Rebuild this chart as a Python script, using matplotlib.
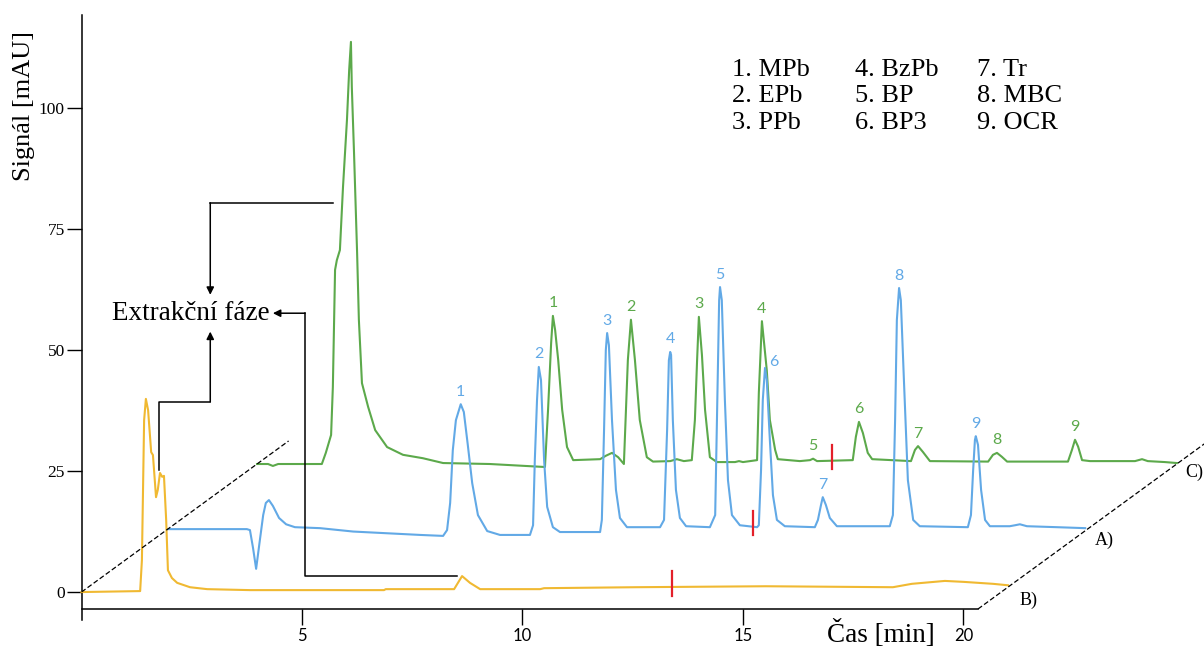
import numpy as np
import matplotlib
matplotlib.use("Agg")
import matplotlib.pyplot as plt

# ── data: time [min], signal [mAU] ─────────────────────────────────────
# B) extrakční fáze (yellow), drawn on the front plane
b_time = [0.00, 1.33, 1.37, 1.42, 1.46, 1.51, 1.58, 1.62, 1.69, 1.73, 1.78, 1.83,
          1.87, 1.92, 1.96, 2.05, 2.17, 2.46, 2.85, 3.82, 6.86, 6.90, 8.45, 8.63,
          8.81, 9.04, 10.40, 10.49, 12.57, 15.52, 18.40, 18.83, 19.58, 20.01, 20.67, 21.01]
b_signal = [0.0, 0.2, 6.6, 35.5, 39.9, 37.6, 28.9, 28.3, 19.6, 21.1, 24.6, 23.8,
            24.0, 14.9, 4.5, 2.9, 1.9, 1.0, 0.6, 0.4, 0.4, 0.6, 0.6, 3.3,
            1.9, 0.6, 0.6, 0.8, 1.0, 1.2, 1.0, 1.7, 2.3, 2.1, 1.7, 1.4]

# A) standard mix (blue)
a_time = [0.00, 1.81, 1.88, 1.95, 2.02, 2.09, 2.18, 2.24, 2.31, 2.40, 2.54, 2.70, 2.90, 3.47, 4.22, 5.74,
          6.26, 6.35, 6.42, 6.48, 6.55, 6.66, 6.73, 6.82, 6.92, 7.05, 7.26, 7.55,
          8.23, 8.30, 8.34, 8.39, 8.43, 8.48, 8.55, 8.62, 8.75, 8.91,
          9.82, 9.86, 9.91, 9.95, 9.98, 10.02, 10.09, 10.18, 10.27, 10.43,
          11.18, 11.27, 11.34, 11.38, 11.41, 11.43, 11.47, 11.54, 11.63, 11.77,
          12.31, 12.43, 12.47, 12.52, 12.54, 12.58, 12.65, 12.72, 12.81, 12.99,
          13.38, 13.42, 13.47, 13.51, 13.56, 13.60, 13.67, 13.74, 13.83, 14.01,
          14.69, 14.76, 14.83, 14.87, 14.94, 15.03, 15.19,
          16.39, 16.46, 16.51, 16.55, 16.60, 16.64, 16.71, 16.80, 16.92, 17.07,
          18.16, 18.23, 18.28, 18.32, 18.34, 18.39, 18.46, 18.55, 18.66,
          19.11, 19.23, 19.34, 19.50, 20.18, 20.82]
a_signal = [0.0, 0.0, -0.2, -3.9, -8.2, -3.3, 2.9, 5.4, 6.0, 4.8, 2.3, 1.0, 0.4, 0.2, -0.5, -1.2,
            -1.4, -0.2, 5.4, 16.3, 22.5, 25.8, 24.2, 17.4, 9.5, 2.9, -0.4, -1.2,
            -1.2, 0.8, 14.3, 26.7, 33.5, 30.8, 14.3, 4.6, 0.4, -0.6,
            -0.6, 1.9, 20.5, 37.0, 40.5, 38.0, 22.5, 8.1, 2.3, 0.4,
            0.4, 1.9, 20.5, 34.9, 36.6, 36.0, 22.5, 8.1, 2.3, 0.6,
            0.4, 2.9, 22.5, 47.3, 50.0, 47.3, 26.7, 10.1, 2.9, 0.8,
            0.4, 0.8, 12.2, 26.7, 33.3, 30.8, 18.4, 7.0, 1.9, 0.6,
            0.4, 1.9, 5.0, 6.6, 5.0, 2.3, 0.6,
            0.6, 2.9, 22.5, 43.2, 49.8, 47.3, 30.8, 10.1, 1.9, 0.6,
            0.4, 2.9, 12.2, 18.4, 19.2, 17.4, 8.1, 1.9, 0.6,
            0.6, 0.8, 1.0, 0.6, 0.4, 0.2]

# C) sample after extraction (green)
c_time = [0.00, 0.25, 0.36, 0.48, 1.47, 1.56, 1.68, 1.72, 1.77, 1.81, 1.88, 1.95, 2.04, 2.09,
          2.13, 2.15, 2.20, 2.27, 2.31, 2.38, 2.52, 2.68, 2.95, 3.31, 3.76, 4.22, 5.28, 6.49,
          6.53, 6.60, 6.67, 6.71, 6.76, 6.83, 6.92, 7.03, 7.17,
          7.78, 7.91, 8.05, 8.19, 8.32, 8.41, 8.48, 8.57, 8.68, 8.84, 8.98,
          9.37, 9.52, 9.68, 9.86, 9.93, 9.98, 10.02, 10.09, 10.16, 10.27, 10.43,
          10.84, 10.93, 11.02, 11.34, 11.38, 11.45, 11.56, 11.63, 11.75, 11.81,
          12.31, 12.54, 12.61, 12.70,
          13.51, 13.58, 13.65, 13.74, 13.85, 13.95,
          14.83, 14.92, 14.99, 15.10, 15.26,
          16.58, 16.69, 16.78, 16.89, 17.01,
          18.39, 18.48, 18.55, 18.62, 18.71, 18.89,
          19.91, 20.07, 20.20, 20.59, 20.86]
c_signal = [0.0, 0.0, -0.4, 0.0, 0.0, 2.3, 6.0, 15.9, 40.1, 42.1, 44.2, 57.2, 71.1, 81.4,
            87.2, 77.9, 64.3, 43.6, 29.8, 16.7, 11.8, 7.0, 3.5, 1.9, 1.2, 0.2, 0.0, -0.6,
            -0.6, 11.2, 25.0, 30.6, 27.7, 21.5, 11.2, 3.5, 0.8,
            1.0, 1.7, 2.3, 1.4, 0.0, 21.5, 29.8, 21.5, 9.1, 1.4, 0.5,
            0.6, 1.0, 0.6, 0.8, 9.1, 21.5, 30.4, 22.5, 11.2, 1.4, 0.4,
            0.4, 0.6, 0.4, 0.8, 14.7, 29.5, 19.4, 9.1, 2.9, 1.0,
            0.6, 0.8, 1.1, 0.6,
            0.8, 5.6, 8.7, 6.4, 2.3, 1.0,
            0.6, 2.9, 3.7, 2.5, 0.6,
            0.5, 1.9, 2.3, 1.5, 0.5,
            0.5, 2.9, 5.0, 3.6, 0.8, 0.6,
            0.6, 1.0, 0.6, 0.4, 0.2]

peak_numbers = ["1", "2", "3", "4", "5", "6", "7", "8", "9"]
a_peak_times = [6.66, 8.43, 9.98, 11.41, 12.54, 13.56, 14.87, 16.60, 18.34]
c_peak_times = [6.71, 8.48, 10.02, 11.45, 12.61, 13.65, 14.99, 16.78, 18.55]
compounds = ["MPb", "EPb", "PPb", "BzPb", "BP", "BP3", "Tr", "MBC", "OCR"]

# red tick on each trace
mark_b, mark_a, mark_c = 13.39, 13.29, 13.04

x_ticks = [5, 10, 15, 20]
y_ticks = [0, 25, 50, 75, 100]

# ── pseudo-3D layout: shift of the rear traces along the depth axis ──
A_SHIFT = (1.94, 13.0)
C_SHIFT = (3.98, 26.45)

YELLOW = "#F0B932"
BLUE = "#62A9E6"
GREEN = "#5CA94B"
RED = "#E3202A"
SERIF = "Liberation Serif"
SANS = "Lato"

fig = plt.figure(figsize=(12.04, 6.48), dpi=100)
ax = fig.add_axes([81.5 / 1204, 39 / 648, 896.5 / 1204, 594 / 648])
ax.set_xlim(0, 20.33)
ax.set_ylim(-3.5, 119.2)

for s in ("top", "right"):
    ax.spines[s].set_visible(False)
ax.spines["left"].set_bounds(-5.8, 119.2)
for s in ("left", "bottom"):
    ax.spines[s].set_linewidth(1.1)

ax.set_xticks(x_ticks)
ax.set_yticks(y_ticks)
ax.tick_params(axis="y", direction="out", length=10.5, width=1.0, pad=1.5,
               labelsize=12.5)
ax.tick_params(axis="x", direction="out", length=11.5, width=1.0, pad=2,
               labelsize=12)
for lab in ax.get_yticklabels():
    lab.set_family(SERIF)
for lab in ax.get_xticklabels():
    lab.set_family(SANS)

line_kw = dict(lw=1.5, clip_on=False, solid_joinstyle="round")
ct = np.array(c_time) + C_SHIFT[0]
cs = np.array(c_signal) + C_SHIFT[1]
at = np.array(a_time) + A_SHIFT[0]
as_ = np.array(a_signal) + A_SHIFT[1]
ax.plot(ct, cs, color=GREEN, zorder=3, **line_kw)
ax.plot(at, as_, color=BLUE, zorder=4, **line_kw)
ax.plot(b_time, b_signal, color=YELLOW, zorder=5, **line_kw)

# red ticks
for t, tt, ss in ((mark_b, np.array(b_time), np.array(b_signal)),
                  (mark_a + A_SHIFT[0], at, as_),
                  (mark_c + C_SHIFT[0], ct, cs)):
    yc = np.interp(t, tt, ss) + 0.7
    ax.plot([t, t], [yc - 2.5, yc + 2.5], color=RED, lw=1.6, zorder=6, clip_on=False)

# peak numbers
for num, t in zip(peak_numbers, a_peak_times):
    y = np.interp(t, a_time, a_signal)
    off = (6, 4.5) if num == "6" else (0, 9)
    ax.annotate(num, (t + A_SHIFT[0], y + A_SHIFT[1]), xytext=off,
                textcoords="offset points", ha="center", va="center",
                color=BLUE, fontsize=11.5, family=SANS, annotation_clip=False)
for num, t in zip(peak_numbers, c_peak_times):
    y = np.interp(t, c_time, c_signal)
    ax.annotate(num, (t + C_SHIFT[0], y + C_SHIFT[1]), xytext=(0, 9),
                textcoords="offset points", ha="center", va="center",
                color=GREEN, fontsize=11.5, family=SANS, annotation_clip=False)

# depth axes (dashed)
k = 1.18
ax.plot([0, C_SHIFT[0] * k], [0, C_SHIFT[1] * k], ls=(0, (4, 2)), color="black",
        lw=0.9, zorder=7, clip_on=False)
k2 = 1.3
ax.plot([20.33, 20.33 + C_SHIFT[0] * k2], [-3.5, -3.5 + C_SHIFT[1] * k2],
        ls=(0, (4, 2)), color="black", lw=0.9, zorder=7, clip_on=False)

ax.text(21.27, -1.65, "B)", family=SERIF, fontsize=13, ha="left", va="center")
ax.text(22.98, 10.7, "A)", family=SERIF, fontsize=13, ha="left", va="center")
ax.text(25.04, 24.8, "C)", family=SERIF, fontsize=13, ha="left", va="center")

# "Extrakční fáze" callouts
ax.text(2.49, 57.6, "Extrakční fáze", family=SERIF, fontsize=19.5,
        ha="center", va="center")
arrow_kw = dict(arrowstyle="-|>", color="black", lw=1.1, shrinkA=0, shrinkB=0,
                mutation_scale=11)
path_kw = dict(color="black", lw=1.1, zorder=8, clip_on=False)
# from green front peak
ax.plot([5.70, 2.92], [80.4, 80.4], **path_kw)
ax.annotate("", xy=(2.92, 61.4), xytext=(2.92, 80.4), arrowprops=arrow_kw)
# from yellow injection peak
ax.plot([1.76, 1.76, 2.92], [25.2, 39.3, 39.3], **path_kw)
ax.annotate("", xy=(2.92, 53.8), xytext=(2.92, 39.3), arrowprops=arrow_kw)
# from yellow bump
ax.plot([8.51, 5.07, 5.07], [3.31, 3.31, 57.6], **path_kw)
ax.annotate("", xy=(4.34, 57.6), xytext=(5.07, 57.6), arrowprops=arrow_kw)

# compound legend
for i, name in enumerate(compounds):
    col, row = divmod(i, 3)
    fig.text([731.7, 855, 977][col] / 1204, 1 - (70 + row * 26.5) / 648,
             f"{i + 1}. {name}", family=SERIF, fontsize=19, ha="left", va="center")

fig.text(24 / 1204, 1 - 106 / 648, "Signál [mAU]", family=SERIF, fontsize=19,
         rotation=90, ha="center", va="center")
fig.text(881 / 1204, 1 - 634 / 648, "Čas [min]", family=SERIF, fontsize=19.5,
         ha="center", va="center")

fig.savefig("out.png", dpi=100)
